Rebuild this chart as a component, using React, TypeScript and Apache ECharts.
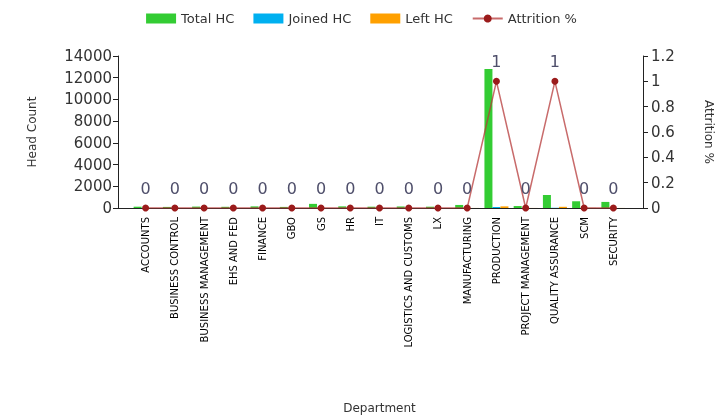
import React, { useEffect, useRef } from "react";
import * as echarts from "echarts";

const departments = [
  "ACCOUNTS", "BUSINESS CONTROL", "BUSINESS MANAGEMENT", "EHS AND FED", "FINANCE", "GBO", "GS", "HR", "IT",
  "LOGISTICS AND CUSTOMS", "LX", "MANUFACTURING", "PRODUCTION", "PROJECT MANAGEMENT", "QUALITY ASSURANCE", "SCM", "SECURITY",
];
const totalHC = [120, 100, 130, 110, 150, 100, 380, 150, 120, 140, 120, 280, 12800, 180, 1200, 620, 560];
const joinedHC = [5, 5, 5, 5, 5, 5, 10, 5, 5, 5, 5, 10, 90, 5, 20, 10, 5];
const leftHC = [3, 3, 3, 3, 3, 3, 5, 3, 3, 3, 3, 5, 150, 5, 110, 10, 5];
const attrition = [0, 0, 0, 0, 0, 0, 0, 0, 0, 0, 0, 0, 1, 0, 1, 0, 0];

const FONT = "DejaVu Sans";

export default function App() {
  const ref = useRef<HTMLDivElement>(null);
  useEffect(() => {
    if (!ref.current) return;
    const chart = echarts.init(ref.current, null, { renderer: "svg" });
    chart.setOption({
      animation: false,
      textStyle: { fontFamily: FONT },
      legend: {
        data: [
          { name: "Total HC", icon: "rect" },
          { name: "Joined HC", icon: "rect" },
          { name: "Left HC", icon: "rect" },
          { name: "Attrition %" },
        ],
        left: "center",
        top: 7,
        itemWidth: 30,
        itemHeight: 10,
        itemGap: 19,
        textStyle: { fontSize: 13, color: "#333", fontFamily: FONT },
      },
      grid: [
        { left: 131, right: 93, top: 56, bottom: 211, containLabel: false },
        { left: 118, right: 78, top: 56, bottom: 211, containLabel: false },
      ],
      xAxis: [
        {
          type: "category",
          gridIndex: 0,
          data: departments,
          axisLine: { show: true, lineStyle: { color: "#222", width: 1 } },
          axisTick: { show: false },
          axisLabel: {
            rotate: 90,
            fontSize: 10,
            color: "#000",
            margin: 9,
            interval: 0,
            fontFamily: FONT,
          },
          name: "Department",
          nameLocation: "middle",
          nameGap: 194,
          nameTextStyle: { fontSize: 12, color: "#333", fontFamily: FONT },
        },
        {
          type: "category",
          gridIndex: 1,
          data: [],
          axisLine: { show: true, lineStyle: { color: "#222", width: 1 } },
          axisTick: { show: false },
          axisLabel: { show: false },
        },
      ],
      yAxis: [
        {
          type: "value",
          gridIndex: 0,
          position: "left",
          offset: 13,
          min: 0,
          max: 14000,
          interval: 2000,
          axisLine: { show: true, lineStyle: { color: "#222", width: 1 } },
          axisTick: { show: true, length: 5, lineStyle: { color: "#222" } },
          splitLine: { show: false },
          axisLabel: {
            fontSize: 15,
            color: "#333",
            margin: 6,
            fontFamily: FONT,
            formatter: (v: number) => String(v),
          },
          name: "Head Count",
          nameLocation: "middle",
          nameRotate: 90,
          nameGap: 80,
          nameTextStyle: { fontSize: 12, color: "#333", fontFamily: FONT },
        },
        {
          type: "value",
          gridIndex: 0,
          position: "right",
          offset: 15,
          min: 0,
          max: 1.2,
          interval: 0.2,
          axisLine: { show: true, lineStyle: { color: "#222", width: 1 } },
          axisTick: { show: true, length: 5, lineStyle: { color: "#222" } },
          splitLine: { show: false },
          axisLabel: {
            fontSize: 15,
            color: "#333",
            margin: 8,
            fontFamily: FONT,
            formatter: (v: number) => String(+v.toFixed(1)),
          },
          name: "Attrition %",
          nameLocation: "middle",
          nameRotate: -90,
          nameGap: 60,
          nameTextStyle: { fontSize: 12, color: "#333", fontFamily: FONT },
        },
        { type: "value", gridIndex: 1, show: false },
      ],
      series: [
        {
          name: "Total HC",
          type: "bar",
          xAxisIndex: 0,
          yAxisIndex: 0,
          data: totalHC,
          barWidth: 8,
          barGap: "0%",
          itemStyle: { color: "#33cc33" },
        },
        {
          name: "Joined HC",
          type: "bar",
          xAxisIndex: 0,
          yAxisIndex: 0,
          data: joinedHC,
          barWidth: 8,
          barGap: "0%",
          itemStyle: { color: "#00b0f0" },
        },
        {
          name: "Left HC",
          type: "bar",
          xAxisIndex: 0,
          yAxisIndex: 0,
          data: leftHC,
          barWidth: 8,
          barGap: "0%",
          itemStyle: { color: "#ffa000" },
        },
        {
          name: "Attrition %",
          type: "line",
          xAxisIndex: 0,
          yAxisIndex: 1,
          data: attrition,
          symbol: "circle",
          symbolSize: 7,
          lineStyle: { color: "#b53a3a", width: 1.5, opacity: 0.75 },
          itemStyle: { color: "#9b1b1b" },
          label: {
            show: true,
            position: "top",
            distance: 8,
            fontSize: 16,
            color: "#4f4f6b",
            fontFamily: FONT,
          },
        },
      ],
    });
    return () => chart.dispose();
  }, []);
  return <div ref={ref} style={{ position: "fixed", left: 0, top: 0, width: 723, height: 419 }} />;
}
